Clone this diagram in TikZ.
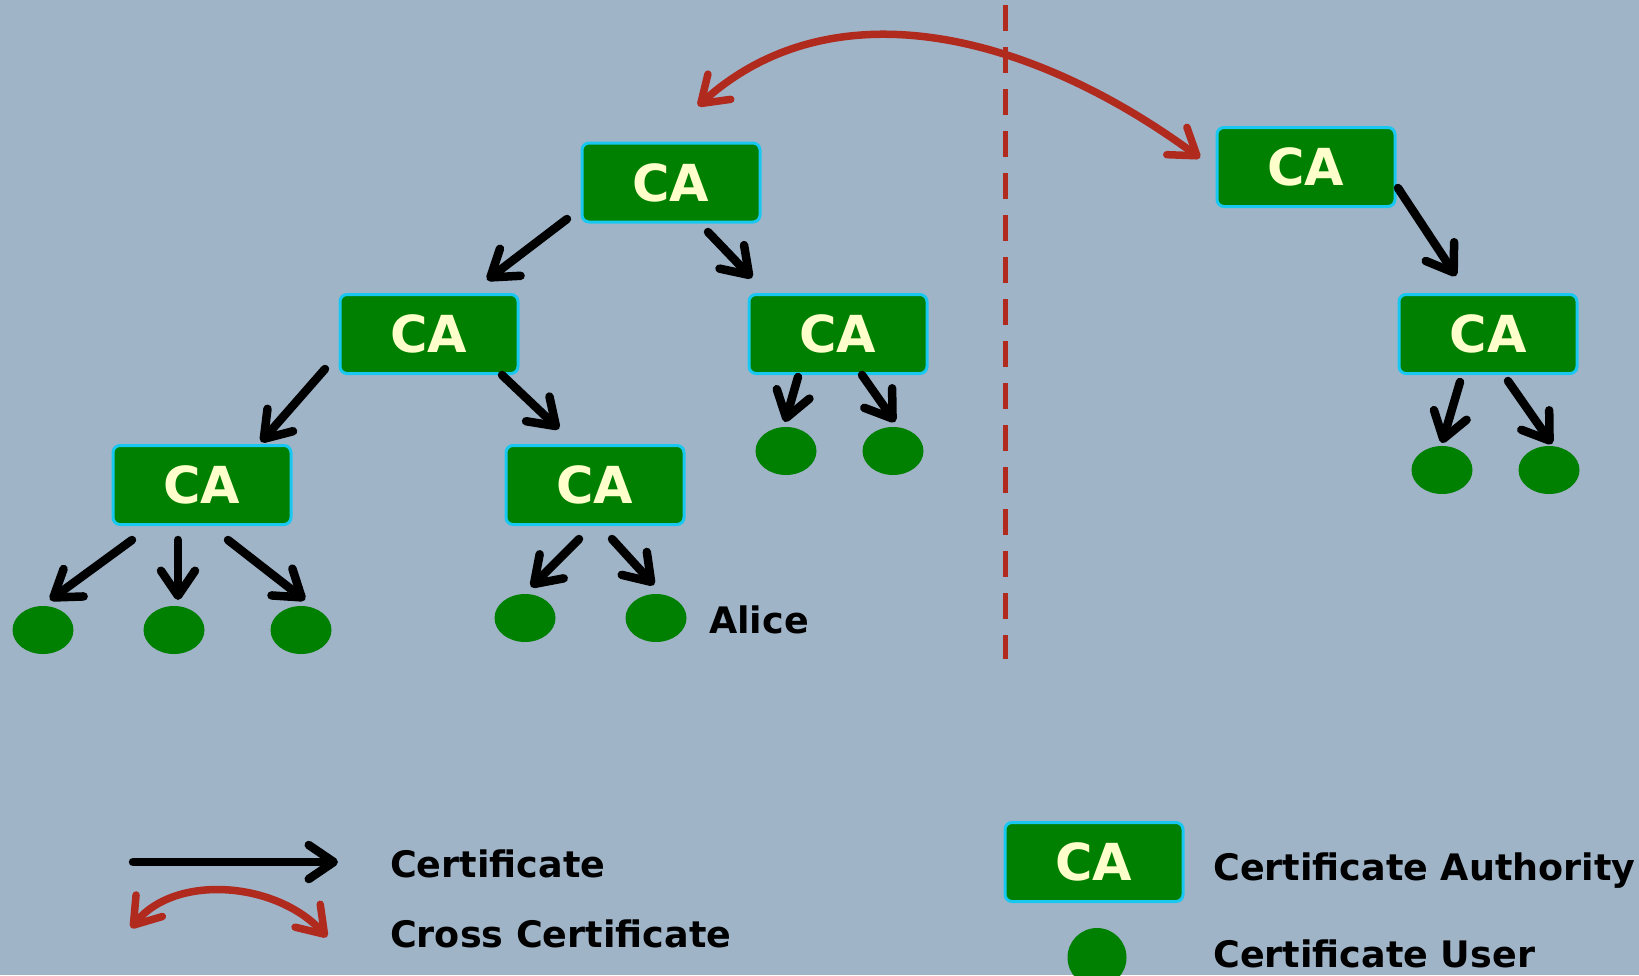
\documentclass[tikz,border=0pt]{standalone}
\usepackage{fontspec}
\setmainfont{DejaVu Sans}
\usetikzlibrary{arrows.meta,shapes}

\definecolor{paper}{RGB}{160,180,200}
\definecolor{cagreen}{RGB}{0,128,0}
\definecolor{caedge}{RGB}{25,200,240}
\definecolor{catext}{RGB}{255,255,204}
\definecolor{xred}{RGB}{176,42,30}

\begin{document}
\begin{tikzpicture}[x=1pt, y=-1pt,
    barb/.tip={Straight Barb[length=25pt, width=34pt, round]},
    ca/.style={rectangle, draw=caedge, line width=3pt, fill=cagreen, rounded corners=7pt, minimum width=178pt, minimum height=79pt, inner sep=0pt, text=catext, font=\fontsize{51}{51}\selectfont\bfseries},
    user/.style={ellipse, fill=cagreen, minimum width=61pt, minimum height=48pt, inner sep=0pt},
    cert/.style={draw, line width=8.5pt, line cap=round, -barb},
    cross/.style={draw=xred, line width=7.5pt, line cap=round, barb-barb},
    key/.style={anchor=base west, inner sep=0pt, font=\fontsize{36.5}{40}\selectfont\bfseries}]

    \fill[paper] (0,0) rectangle (1639,975);
    \useasboundingbox (0,0) rectangle (1639,975);

    % left hierarchy
    \node [ca] (rootca) at (671,182.5) {CA};
    \node [ca] (midl) at (429,334) {CA};
    \node [ca] (midr) at (838,334) {CA};
    \node [ca] (lowl) at (202,485) {CA};
    \node [ca] (lowm) at (595,485) {CA};

    \node [user] (u1) at (43,630) {};
    \node [user] (u2) at (174,630) {};
    \node [user] (u3) at (301,630) {};
    \node [user] (u4) at (525,618) {};
    \node [user] (u5) at (656,618) {};
    \node [user] (u6) at (786,451) {};
    \node [user] (u7) at (893,451) {};
    \node [key] (alice) at (709,633) {Alice};

    % right hierarchy
    \node [ca] (xroot) at (1306,167) {CA};
    \node [ca] (xsub) at (1488,334) {CA};
    \node [user] (u8) at (1442,470) {};
    \node [user] (u9) at (1549,470) {};

    % border between the two domains
    \coordinate (dtop) at (1005,5);
    \coordinate (dbot) at (1005,659);
    \draw [xred, line width=5pt, dash pattern=on 26pt off 16pt] (dtop) -- (dbot);

    % certificates
    \path [cert] ([shift={(-104,36.5)}]rootca.center) -- ([shift={(58,-54)}]midl.center);
    \path [cert] ([shift={(37,49.5)}]rootca.center) -- ([shift={(-86,-56)}]midr.center);
    \path [cert] ([shift={(-104,35)}]midl.center) -- ([shift={(59,-43)}]lowl.center);
    \path [cert] ([shift={(73,41)}]midl.center) -- ([shift={(-36,-56)}]lowm.center);
    \path [cert] ([shift={(-40,43)}]midr.center) -- ([shift={(-1,-29)}]u6.center);
    \path [cert] ([shift={(24,41)}]midr.center) -- ([shift={(2,-29)}]u7.center);
    \path [cert] ([shift={(-70,55)}]lowl.center) -- ([shift={(7,-30)}]u1.center);
    \path [cert] ([shift={(-24,55)}]lowl.center) -- ([shift={(4,-30)}]u2.center);
    \path [cert] ([shift={(26,55)}]lowl.center) -- ([shift={(4,-30)}]u3.center);
    \path [cert] ([shift={(-16,54)}]lowm.center) -- ([shift={(6,-31)}]u4.center);
    \path [cert] ([shift={(17,54)}]lowm.center) -- ([shift={(-2,-33)}]u5.center);
    \path [cert] ([shift={(92,21)}]xroot.center) -- ([shift={(-32,-58)}]xsub.center);
    \path [cert] ([shift={(-28,48)}]xsub.center) -- ([shift={(0,-27)}]u8.center);
    \path [cert] ([shift={(20,47)}]xsub.center) -- ([shift={(3,-26)}]u9.center);

    % cross certificate
    \path [cross] ([shift={(27,-76.5)}]rootca.center) .. controls +(135,-122) and +(-170,-125) .. ([shift={(-106,-9)}]xroot.center);

    % legend
    \coordinate (certa) at (133,862);
    \coordinate (certb) at (338,862);
    \path [cert] (certa) -- (certb);
    \coordinate (crossa) at (131,928);
    \coordinate (crossb) at (327,937);
    \path [cross] (crossa) .. controls +(45,-55) and +(-50,-55) .. (crossb);
    \node [key] (certtxt) at (390,877) {Certificate};
    \node [key] (crosstxt) at (390,947) {Cross Certificate};

    \node [ca] (keyca) at (1094,862) {CA};
    \node [user, minimum width=59pt, minimum height=59pt] (keyuser) at (1097,957.5) {};
    \node [key] (catxt) at (1213,880) {Certificate Authority};
    \node [key] (usertxt) at (1213,967) {Certificate User};
\end{tikzpicture}
\end{document}
